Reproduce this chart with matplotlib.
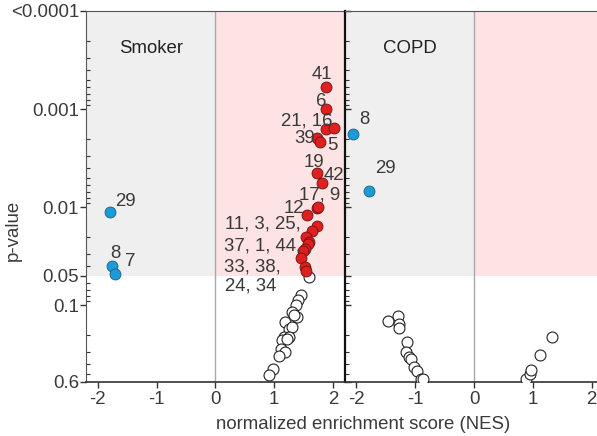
import matplotlib
matplotlib.use('Agg')
import matplotlib.pyplot as plt
import matplotlib.transforms as mtransforms
from matplotlib.ticker import LogLocator, NullFormatter, FixedLocator, FixedFormatter

plt.rcParams['font.family'] = ['Liberation Sans', 'DejaVu Sans']

# ---------------- data ----------------
# Smoker panel
smoker_blue_nes = [-1.80, -1.75, -1.71]
smoker_blue_p = [0.0113, 0.0394, 0.0482]

smoker_red_nes = [1.89, 1.886, 1.89, 2.02, 1.73, 1.78, 1.73, 1.806, 1.726, 1.74, 1.56,
                  1.73, 1.65, 1.55, 1.59, 1.57, 1.52, 1.49, 1.46, 1.53, 1.55]
smoker_red_p = [5.96e-4, 1.01e-3, 1.58e-3, 1.55e-3, 1.96e-3, 2.15e-3, 4.45e-3, 5.7e-3, 0.0103, 0.0100, 0.0120,
                0.0155, 0.0175, 0.0202, 0.0228, 0.0240, 0.0267, 0.0277, 0.0331, 0.0410, 0.0443]

smoker_ns_nes = [1.59, 1.45, 1.40, 1.38, 1.31, 1.39, 1.33, 1.19, 1.25, 1.31, 1.16, 1.25,
                 1.14, 1.22, 1.11, 1.19, 1.09, 0.98, 0.92]
smoker_ns_p = [0.0517, 0.0782, 0.0894, 0.100, 0.117, 0.132, 0.127, 0.148, 0.173, 0.166, 0.210, 0.210,
               0.227, 0.222, 0.277, 0.300, 0.330, 0.450, 0.520]

# COPD panel
copd_blue_nes = [-2.06, -1.79]
copd_blue_p = [1.79e-3, 6.84e-3]

copd_ns_nes = [-1.47, -1.30, -1.28, -1.27, -1.14, -1.15, -1.10, -1.07, -1.02, -0.97, -0.90, -0.86,
               0.89, 0.95, 0.97, 1.13, 1.32]
copd_ns_p = [0.145, 0.129, 0.157, 0.170, 0.240, 0.300, 0.340, 0.350, 0.430, 0.470, 0.560, 0.570,
             0.570, 0.500, 0.460, 0.320, 0.210]

# gene-set labels (text, NES of text left edge, p of text centre)
smoker_labels = ['41', '6', '21, 16', '39', '5', '19', '42', '17, 9', '12',
                 '11, 3, 25,', '37, 1, 44,', '33, 38,', '24, 34', '29', '8', '7']
smoker_label_x = [1.635, 1.704, 1.124, 1.335, 1.903, 1.499, 1.835, 1.431, 1.159,
                  0.17, 0.153, 0.153, 0.17, -1.704, -1.789, -1.533]
smoker_label_p = [4.47e-4, 8.33e-4, 1.31e-3, 2.01e-3, 2.33e-3, 3.51e-3, 4.78e-3, 7.5e-3, 0.01045,
                  0.0149, 0.0251, 0.0407, 0.0631, 8.69e-3, 0.030, 0.0361]
copd_labels = ['8', '29']
copd_label_x = [-1.961, -1.69]
copd_label_p = [1.28e-3, 4.02e-3]

panel_titles = ['Smoker', 'COPD']
ytick_vals = [1e-4, 1e-3, 1e-2, 0.05, 0.1, 0.6]
ytick_labels = ['<0.0001', '0.001', '0.01', '0.05', '0.1', '0.6']
xtick_vals = [-2, -1, 0, 1, 2]
p_cut = 0.05
x_lim = (-2.2, 2.2)
y_lim = (0.6, 1e-4)

# ---------------- style ----------------
TXT = '#3a3a3a'
GREY_BG = '#efefef'
PINK_BG = '#fde3e3'
RED = '#e0201f'
BLUE = '#1b9bd7'
FS = 13.4
MS = 62

fig = plt.figure(figsize=(5.97, 4.36), dpi=100)
axL = fig.add_axes([0.1441, 0.1250, 0.4333, 0.8498])
axR = fig.add_axes([0.5774, 0.1250, 0.4333, 0.8498])

def setup(ax, left):
    ax.set_yscale('log')
    ax.set_xlim(*x_lim)
    ax.set_ylim(*y_lim)
    ax.fill_between([x_lim[0], 0], y_lim[1], p_cut, color=GREY_BG, lw=0, zorder=0)
    ax.fill_between([0, x_lim[1]], y_lim[1], p_cut, color=PINK_BG, lw=0, zorder=0)
    ax.axvline(0, color='#a8a8a8', lw=1.0, zorder=1)
    ax.set_xticks(xtick_vals)
    ax.set_xticklabels([str(v) for v in xtick_vals])
    ax.yaxis.set_major_locator(FixedLocator(ytick_vals))
    ax.yaxis.set_minor_locator(LogLocator(base=10, subs=(2, 3, 4, 5, 6, 7, 8, 9)))
    ax.yaxis.set_minor_formatter(NullFormatter())
    ax.tick_params(axis='x', direction='out', length=4, width=1, colors='#333333',
                   labelsize=FS, labelcolor=TXT, pad=3)
    ax.tick_params(axis='y', which='major', length=4, width=1, colors='#333333',
                   labelsize=FS, labelcolor=TXT, pad=1)
    ax.tick_params(axis='y', which='minor', direction='in', length=3, width=0.8, colors='#333333')
    ax.spines['right'].set_visible(False)
    ax.spines['top'].set_color('#555555')
    ax.spines['bottom'].set_color('#333333')
    ax.spines['bottom'].set_linewidth(1.2)
    if left:
        ax.yaxis.set_major_formatter(FixedFormatter(ytick_labels))
        ax.tick_params(axis='y', which='major', direction='out')
        ax.spines['left'].set_color('#555555')
    else:
        ax.yaxis.set_major_formatter(NullFormatter())
        ax.tick_params(axis='y', which='major', direction='in', length=4)
        ax.spines['left'].set_color('#111111')
        ax.spines['left'].set_linewidth(1.6)
    ax.set_facecolor('white')

setup(axL, True)
setup(axR, False)

# Smoker points
axL.scatter(smoker_ns_nes, smoker_ns_p, s=MS, facecolor='white', edgecolor='#222222', lw=0.8, zorder=3)
axL.scatter(smoker_red_nes, smoker_red_p, s=MS, facecolor=RED, edgecolor='#6a1010', lw=0.6, zorder=4)
axL.scatter(smoker_blue_nes, smoker_blue_p, s=MS, facecolor=BLUE, edgecolor='#1a5f85', lw=0.6, zorder=4)

# COPD points
axR.scatter(copd_ns_nes, copd_ns_p, s=MS, facecolor='white', edgecolor='#222222', lw=0.8, zorder=3)
axR.scatter(copd_blue_nes, copd_blue_p, s=MS, facecolor=BLUE, edgecolor='#1a5f85', lw=0.6, zorder=4)

for t, x, p in zip(smoker_labels, smoker_label_x, smoker_label_p):
    axL.text(x, p, t, ha='left', va='center', fontsize=FS, color=TXT, zorder=5)
for t, x, p in zip(copd_labels, copd_label_x, copd_label_p):
    axR.text(x, p, t, ha='left', va='center', fontsize=FS, color=TXT, zorder=5)

for ax, title in zip([axL, axR], panel_titles):
    trans = mtransforms.blended_transform_factory(ax.transData, ax.transAxes)
    ax.text(-1.1, 0.9, title, transform=trans, ha='center', va='center',
            fontsize=FS, color='#222222', zorder=5)

fig.text(363 / 597, 1 - 424 / 436, 'normalized enrichment score (NES)', ha='center', va='center',
         fontsize=FS, color=TXT)
fig.text(13 / 597, 1 - 230 / 436, 'p-value', ha='center', va='center', rotation=90,
         fontsize=FS, color=TXT)

fig.savefig('out.png', dpi=100)
